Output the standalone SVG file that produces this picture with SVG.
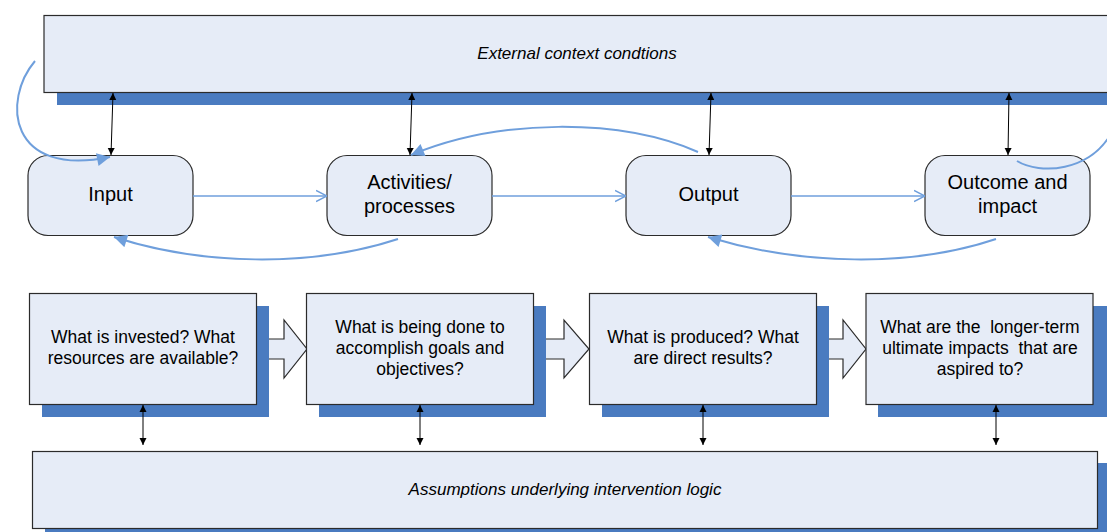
<svg xmlns="http://www.w3.org/2000/svg" width="1107" height="532" viewBox="0 0 1107 532">
<style>
.box{fill:#e6ecf7;stroke:#2b2b2b;stroke-width:1.2}
.shadow{fill:#4a7bc0}
.t{font-family:"Liberation Sans",Arial,sans-serif;fill:#000;text-anchor:middle;white-space:pre}
.big{font-size:20px}
.small{font-size:17.5px}
.it{font-size:17px;font-style:italic}
.blk{stroke:#000;stroke-width:1;fill:none;marker-start:url(#bh);marker-end:url(#bh)}
.blue{stroke:#6f9fdc;stroke-width:2;fill:none}
.curve{marker-end:url(#fh)}
.straight{stroke-width:1.6;marker-end:url(#oh)}
.block{fill:#e6ecf7;stroke:#2b2b2b;stroke-width:1.2}
</style>
<defs>
<marker id="bh" viewBox="0 0 10 10" refX="10" refY="5" markerWidth="7" markerHeight="11" markerUnits="userSpaceOnUse" orient="auto-start-reverse">
<path d="M0,0 L10,5 L0,10 z" fill="#000"/>
</marker>
<marker id="fh" viewBox="0 0 10 10" refX="10" refY="5" markerWidth="15" markerHeight="13" markerUnits="userSpaceOnUse" orient="auto">
<path d="M0,0 L10,5 L0,10 z" fill="#6f9fdc"/>
</marker>
<marker id="oh" viewBox="0 0 10 10" refX="10" refY="5" markerWidth="11" markerHeight="14" markerUnits="userSpaceOnUse" orient="auto">
<path d="M0,0 L10,5 L0,10" fill="none" stroke="#6f9fdc" stroke-width="1.4"/>
</marker>
</defs>

<g id="external-context">
<rect class="shadow" x="57" y="92" width="1060" height="13"/>
<rect class="box" x="44" y="15.5" width="1070" height="77"/>
<text class="t it" x="577" y="59">External context condtions</text>
</g>

<g id="block-arrows">
<polygon class="block" points="256,339 284,339 284,320 307,349 284,378 284,359 256,359"/>
<polygon class="block" points="533,339 564,339 564,320 589,349 564,378 564,359 533,359"/>
<polygon class="block" points="816,339 843,339 843,320 866,349 843,378 843,359 816,359"/>
</g>

<g id="q-input">
<rect class="shadow" x="42" y="306" width="227" height="111"/>
<rect class="box" x="29.5" y="293.5" width="227" height="111"/>
<text class="t small" x="143" y="343">What is invested? What</text>
<text class="t small" x="143" y="364">resources are available?</text>
</g>

<g id="q-activities">
<rect class="shadow" x="319" y="306" width="227" height="111"/>
<rect class="box" x="306.5" y="293.5" width="227" height="111"/>
<text class="t small" x="420" y="333">What is being done to</text>
<text class="t small" x="420" y="354">accomplish goals and</text>
<text class="t small" x="420" y="375">objectives?</text>
</g>

<g id="q-output">
<rect class="shadow" x="602" y="306" width="227" height="111"/>
<rect class="box" x="589.5" y="293.5" width="227" height="111"/>
<text class="t small" x="703" y="343">What is produced? What</text>
<text class="t small" x="703" y="364">are direct results?</text>
</g>

<g id="q-outcome">
<rect class="shadow" x="878" y="306" width="229" height="111"/>
<rect class="box" x="866" y="293.5" width="227" height="111"/>
<text class="t small" x="980" y="333" xml:space="preserve">What are the  longer-term</text>
<text class="t small" x="980" y="354" xml:space="preserve">ultimate impacts  that are</text>
<text class="t small" x="980" y="375">aspired to?</text>
</g>

<g id="assumptions">
<rect class="shadow" x="45" y="463" width="1070" height="80"/>
<rect class="box" x="32.5" y="451.5" width="1065" height="77"/>
<text class="t it" x="565" y="495">Assumptions underlying intervention logic</text>
</g>

<g id="input">
<rect class="box" x="28" y="155.5" width="165" height="80" rx="20"/>
<text class="t big" x="110.5" y="201">Input</text>
</g>

<g id="activities">
<rect class="box" x="327" y="155.5" width="165" height="80" rx="20"/>
<text class="t big" x="409.5" y="189">Activities/</text>
<text class="t big" x="409.5" y="213">processes</text>
</g>

<g id="output">
<rect class="box" x="626" y="155.5" width="165" height="80" rx="20"/>
<text class="t big" x="708.5" y="201">Output</text>
</g>

<g id="outcome">
<rect class="box" x="925" y="155.5" width="165" height="80" rx="20"/>
<text class="t big" x="1007.5" y="189">Outcome and</text>
<text class="t big" x="1007.5" y="213">impact</text>
</g>

<g id="connectors">
<line class="blk" x1="113" y1="93" x2="111" y2="155"/>
<line class="blk" x1="412" y1="93" x2="410" y2="155"/>
<line class="blk" x1="711" y1="93" x2="709" y2="155"/>
<line class="blk" x1="1009" y1="93" x2="1008" y2="155"/>
<line class="blk" x1="143" y1="405" x2="143" y2="445"/>
<line class="blk" x1="420" y1="405" x2="420" y2="445"/>
<line class="blk" x1="703" y1="405" x2="703" y2="445"/>
<line class="blk" x1="996" y1="405" x2="996" y2="445"/>

<line class="blue straight" x1="193" y1="196" x2="327" y2="196"/>
<line class="blue straight" x1="492" y1="196" x2="626" y2="196"/>
<line class="blue straight" x1="791" y1="196" x2="925" y2="196"/>

<path class="blue curve" d="M35,61 C2,100 8,178 110,157"/>
<path class="blue curve" d="M698,152 C620,118 500,118 411,155"/>
<path class="blue curve" d="M398,239 C310,268 200,265 114,237"/>
<path class="blue curve" d="M996,239 C910,268 800,265 708,237"/>
<path class="blue" d="M1017,161 C1040,175 1090,172 1112,132"/>
</g>
</svg>
